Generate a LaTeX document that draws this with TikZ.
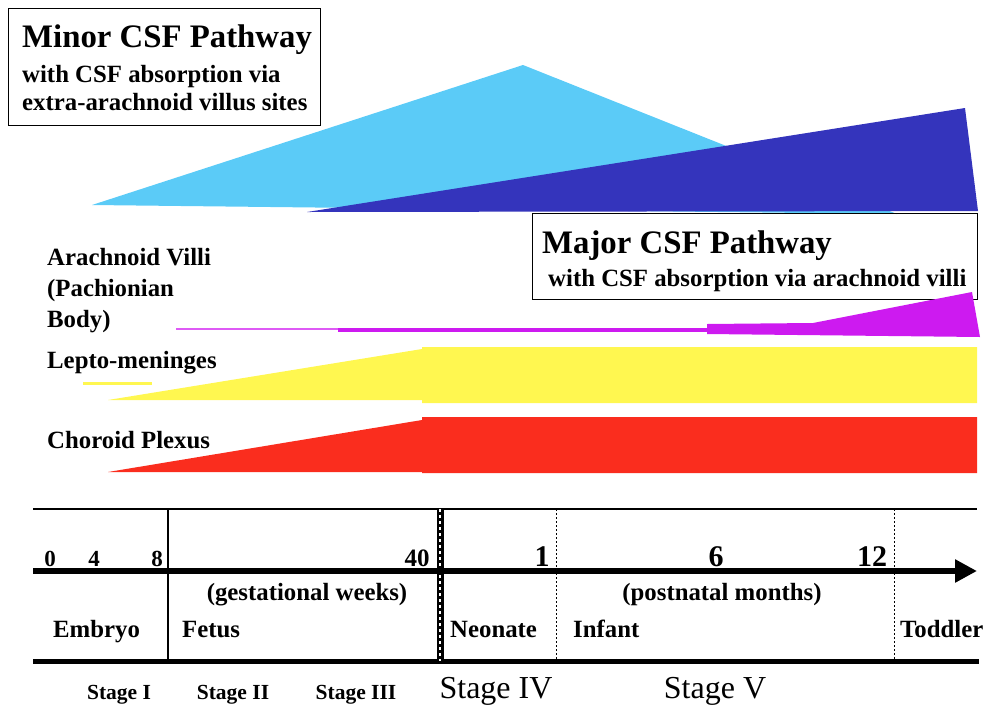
\documentclass[tikz,border=0pt]{standalone}
\usepackage{fontspec}
\setmainfont{Liberation Serif}
\usetikzlibrary{arrows.meta}

\definecolor{minorblue}{RGB}{91,203,247}
\definecolor{majorblue}{RGB}{52,52,188}
\definecolor{villi}{RGB}{205,26,240}
\definecolor{villithin}{RGB}{222,90,245}
\definecolor{lepto}{RGB}{255,247,80}
\definecolor{plexus}{RGB}{250,45,30}

\begin{document}
\begin{tikzpicture}[x=1pt, y=-1pt,
    lbl/.style={font=\fontsize{24.8}{28}\selectfont\bfseries, inner sep=0pt, anchor=base west},
    pathtitle/.style={font=\fontsize{32.8}{36}\selectfont\bfseries, inner sep=0pt, anchor=base west},
    numlbl/.style={font=\fontsize{23}{26}\selectfont\bfseries, inner sep=0pt, anchor=base},
    bignum/.style={font=\fontsize{30}{34}\selectfont\bfseries, inner sep=0pt, anchor=base},
    stagelbl/.style={font=\fontsize{21.5}{24}\selectfont\bfseries, inner sep=0pt, anchor=base},
    bigstage/.style={font=\fontsize{32}{36}\selectfont, inner sep=0pt, anchor=base},
    boxframe/.style={draw, line width=1.2pt, inner sep=0pt, anchor=north west},
    sep/.style={line width=1pt, dash pattern=on 2pt off 2pt}
]
\useasboundingbox (0,0) rectangle (986,705);

% Pathways
\fill[minorblue] (92,205) -- (523,65) -- (897,214) -- cycle;
\fill[majorblue] (307,212) -- (965,108) -- (978,211) -- cycle;

\node[boxframe, minimum width=312pt, minimum height=117pt] (minorbox) at (8,8) {};
\node[pathtitle] (minor) at (22,47) {Minor CSF Pathway};
\node[lbl] (minor1) at (22,82) {with CSF absorption via};
\node[lbl] (minor2) at (22,110) {extra-arachnoid villus sites};

\node[boxframe, minimum width=445pt, minimum height=86pt] (majorbox) at (532,213) {};
\node[pathtitle] (major) at (542,253) {Major CSF Pathway};
\node[lbl] (major1) at (548,286) {with CSF absorption via arachnoid villi};

% Arachnoid villi
\node[lbl] (villi1) at (47,265) {Arachnoid Villi};
\node[lbl] (villi2) at (47,296) {(Pachionian};
\node[lbl] (villi3) at (47,327) {Body)};
\draw[villithin, line width=1.7pt] (176,329) -- (338,329);
\draw[villi, line width=3.3pt] (338,330) -- (708,330);
\fill[villi] (707,324) -- (813,323) -- (972,292) -- (980,337) -- (707,334) -- cycle;

% Lepto-meninges
\node[lbl] (lepto) at (47,368) {Lepto-meninges};
\draw[lepto, line width=3pt] (83,383) -- (152,383);
\fill[lepto] (108,400) -- (422,349) -- (422,347) -- (977,347) -- (977,403)
  -- (422,403) -- (422,400) -- cycle;

% Choroid plexus
\node[lbl] (plexus) at (47,448) {Choroid Plexus};
\fill[plexus] (108,472) -- (422,420) -- (422,417) -- (977,417) -- (977,473)
  -- (422,473) -- (422,472) -- cycle;

% Time axis
\coordinate (topl) at (33,509);
\coordinate (topr) at (977,509);
\coordinate (axl) at (33,571);
\coordinate (axr) at (977,571);
\coordinate (botl) at (33,661);
\coordinate (botr) at (979,661);
\draw[line width=1.5pt] (topl) -- (topr);
\draw[line width=5pt] (botl) -- (botr);
\draw[line width=1.2pt] (168,509) -- (168,661);
\draw[line width=7pt] (440,509) -- (440,661);
\draw[white, line width=2.5pt, dash pattern=on 3pt off 3pt] (440,509) -- (440,661);
\draw[sep] (556,509) -- (556,661);
\draw[sep] (894,509) -- (894,661);
\draw[line width=6pt, -{Triangle[length=22pt, width=22pt]}] (axl) -- (axr);

\node[numlbl] (w0) at (50,566) {0};
\node[numlbl] (w4) at (94,566) {4};
\node[numlbl] (w8) at (157,566) {8};
\node[numlbl, font=\fontsize{25}{28}\selectfont\bfseries] (w40) at (417,566) {40};
\node[bignum] (m1) at (542,566) {1};
\node[bignum] (m6) at (716,566) {6};
\node[bignum] (m12) at (872,566) {12};

\node[lbl, anchor=base] (gest) at (307,600) {(gestational weeks)};
\node[lbl, anchor=base] (post) at (722,600) {(postnatal months)};

\node[lbl] (embryo) at (53,637) {Embryo};
\node[lbl] (fetus) at (182,637) {Fetus};
\node[lbl] (neonate) at (450,637) {Neonate};
\node[lbl] (infant) at (573,637) {Infant};
\node[lbl] (toddler) at (900,637) {Toddler};

% Stages
\node[stagelbl] (st1) at (119,699) {Stage I};
\node[stagelbl] (st2) at (233,699) {Stage II};
\node[stagelbl] (st3) at (356,699) {Stage III};
\node[bigstage] (st4) at (496,698) {Stage IV};
\node[bigstage] (st5) at (715,698) {Stage V};

\end{tikzpicture}
\end{document}
